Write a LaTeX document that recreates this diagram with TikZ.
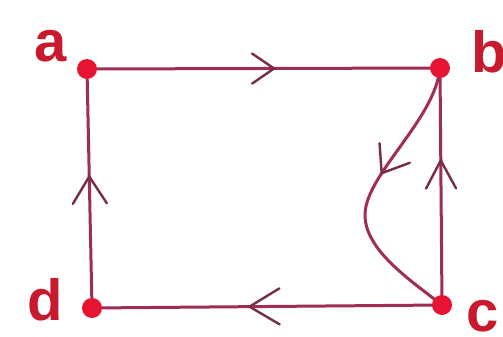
\documentclass[tikz,border=0pt]{standalone}
\usepackage{fontspec}
\setmainfont{Liberation Sans}
\usetikzlibrary{decorations.markings,backgrounds}
\definecolor{linec}{RGB}{160,45,85}
\definecolor{chevc}{RGB}{120,45,70}
\definecolor{dotc}{RGB}{230,20,50}
\definecolor{labc}{RGB}{200,25,45}
\tikzset{
  conn/.style={draw=linec, line width=3pt},
  chev/.style n args={3}{postaction={decorate, decoration={markings,
      mark=at position #1 with {\draw[chevc, line width=2.4pt, line cap=round, line join=miter]
        (-#2pt,#3pt) -- (0pt,0pt) -- (-#2pt,-#3pt);}}}},
  vdot/.style={circle, fill=dotc, minimum size=20pt, inner sep=0pt},
  lab/.style={text=labc, font=\fontsize{58}{58}\selectfont\bfseries, inner sep=0pt, anchor=base west},
}
\begin{document}
\begin{tikzpicture}[x=1pt,y=-1pt]
\useasboundingbox (0,0) rectangle (503,337);
\clip (0,0) rectangle (503,337);
\node[vdot] (a) at (87,69) {};
\node[vdot] (b) at (440,68) {};
\node[vdot] (c) at (442,305) {};
\node[vdot] (d) at (92,308) {};
\node[lab] (la) at (34,62) {a};
\node[lab] (lb) at (471,72) {b};
\node[lab] (lc) at (466,331) {c};
\node[lab] (ld) at (27,320) {d};
\begin{scope}[on background layer]
\fill[white] (0,0) rectangle (503,337);
\draw[conn, chev={0.53}{22}{15}] (a.center) -- (b.center);
\draw[conn, chev={0.55}{30}{18}] (c.center) -- (d.center);
\draw[conn, chev={0.55}{27}{17}] (d.center) -- (a.center);
\draw[conn, chev={0.61}{28}{15}] (c.center) -- (b.center);
\draw[conn, chev={0.42}{24}{18}] (b.center) .. controls (435,120) and (365,175) .. (365,215)
   .. controls (365,250) and (410,280) .. (c.center);
\end{scope}
\end{tikzpicture}
\end{document}
